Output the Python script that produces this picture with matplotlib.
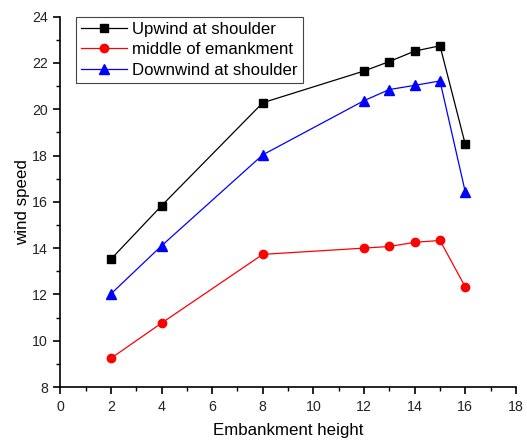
import matplotlib.pyplot as plt
from matplotlib.ticker import MultipleLocator

heights = [2, 4, 8, 12, 13, 14, 15, 16]
upwind = [13.52, 15.83, 20.28, 21.65, 22.06, 22.51, 22.74, 18.48]
middle = [9.24, 10.76, 13.73, 14.0, 14.07, 14.25, 14.33, 12.32]
downwind = [12.02, 14.1, 18.03, 20.37, 20.85, 21.03, 21.22, 16.42]

plt.rcParams['font.family'] = ['Liberation Sans', 'DejaVu Sans']

fig = plt.figure(figsize=(5.27, 4.43), dpi=100)
ax = fig.add_axes([0.1144, 0.1264, 0.8646, 0.8361])

ax.plot(heights, upwind, color="black", lw=0.9, marker="s", ms=5.2, label="Upwind at shoulder")
ax.plot(heights, middle, color="red", lw=0.9, marker="o", ms=6, label="middle of emankment")
ax.plot(heights, downwind, color="blue", lw=0.9, marker="^", ms=6.5, label="Downwind at shoulder")

ax.set_xlim(0, 18)
ax.set_ylim(8, 24)
ax.xaxis.set_major_locator(MultipleLocator(2))
ax.xaxis.set_minor_locator(MultipleLocator(1))
ax.yaxis.set_major_locator(MultipleLocator(2))
ax.yaxis.set_minor_locator(MultipleLocator(1))

# only left and bottom axes
ax.spines["top"].set_visible(False)
ax.spines["right"].set_visible(False)
ax.spines["left"].set_linewidth(1.2)
ax.spines["bottom"].set_linewidth(1.2)
ax.tick_params(which="major", direction="out", length=5, width=1.2, labelsize=10.2, pad=4,
               labelcolor="#222222")
ax.tick_params(which="minor", direction="out", length=3, width=1.0)

ax.set_xlabel("Embankment height", fontsize=12.2, labelpad=7)
ax.set_ylabel("wind speed", fontsize=12.2, labelpad=1)

leg = ax.legend(loc="upper left", bbox_to_anchor=(0.034, 1.0), fontsize=12.1, handlelength=2.7,
                fancybox=False, edgecolor="#444444", framealpha=1, borderpad=0.32,
                labelspacing=0.32, handletextpad=0.35, borderaxespad=0)
leg.get_frame().set_linewidth(0.8)

plt.savefig("out.png", dpi=100)
